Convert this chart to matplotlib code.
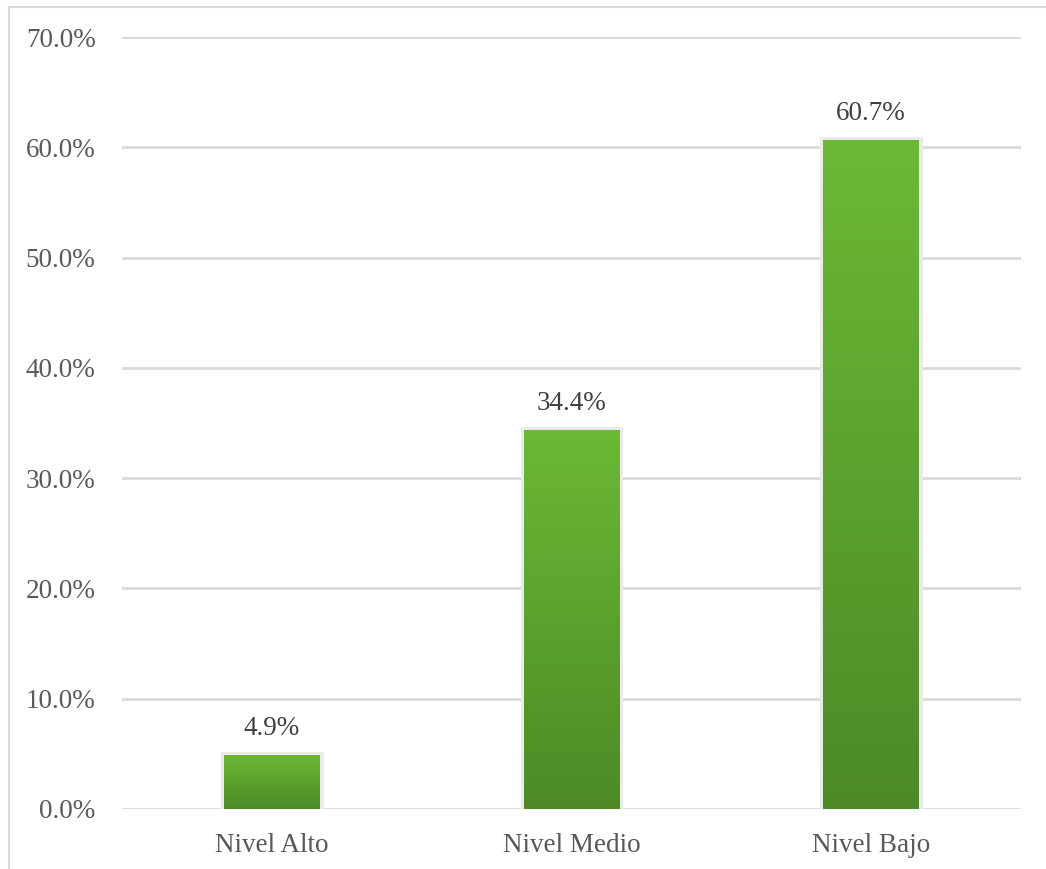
import matplotlib
matplotlib.use("Agg")
import matplotlib.pyplot as plt
import numpy as np
from matplotlib.colors import LinearSegmentedColormap
from matplotlib.lines import Line2D
from matplotlib.ticker import FuncFormatter, MultipleLocator

categories = ["Nivel Alto", "Nivel Medio", "Nivel Bajo"]
values = [4.9, 34.4, 60.7]
labels = ["4.9%", "34.4%", "60.7%"]

plt.rcParams['font.family'] = ['Liberation Serif', 'DejaVu Serif']

W, H = 1046, 869
fig = plt.figure(figsize=(W / 100, H / 100), dpi=100)
ax = fig.add_axes([122 / W, 1 - 809 / H, (1021 - 122) / W, (809 - 37) / H])

x = np.arange(len(categories))
bw = 0.32

# soft shadow behind bars
ax.bar(x, values, width=bw, color="none", edgecolor="#EAEAEA", linewidth=5, zorder=2)
bars = ax.bar(x, values, width=bw, color="#5DA230", zorder=3)

cmap = LinearSegmentedColormap.from_list("g", ["#4D8A26", "#6BB935"])
grad = np.linspace(0, 1, 256).reshape(-1, 1)
for b in bars:
    x0, y0 = b.get_x(), b.get_y()
    im = ax.imshow(grad, cmap=cmap, origin="lower", aspect="auto",
                   extent=[x0, x0 + b.get_width(), y0, y0 + b.get_height()],
                   zorder=4)
    im.set_clip_path(b)

for xi, v, lab in zip(x, values, labels):
    ax.annotate(lab, (xi, v), xytext=(0, 10), textcoords="offset points",
                ha="center", va="bottom", fontsize=19.5, color="#404040")

ax.set_xlim(-0.5, 2.5)
ax.set_ylim(0, 70)
ax.yaxis.set_major_locator(MultipleLocator(10))
ax.yaxis.set_major_formatter(FuncFormatter(lambda v, p: f"{v:.1f}%"))
ax.set_xticks(x)
ax.set_xticklabels(categories)
ax.tick_params(axis="both", length=0, labelsize=19.5, labelcolor="#595959")
ax.tick_params(axis="y", pad=19)
ax.tick_params(axis="x", pad=17)
ax.grid(axis="y", color="#D9D9D9", linewidth=2, zorder=0)
ax.set_axisbelow(True)
for s in ax.spines.values():
    s.set_visible(False)

# outer frame (top and left)
fig.add_artist(Line2D([9 / W, 1], [1 - 7 / H, 1 - 7 / H], color="#D9D9D9", lw=1.5,
                      transform=fig.transFigure))
fig.add_artist(Line2D([9 / W, 9 / W], [0, 1 - 7 / H], color="#D9D9D9", lw=1.5,
                      transform=fig.transFigure))

fig.savefig("out.png", dpi=100, facecolor="white")
